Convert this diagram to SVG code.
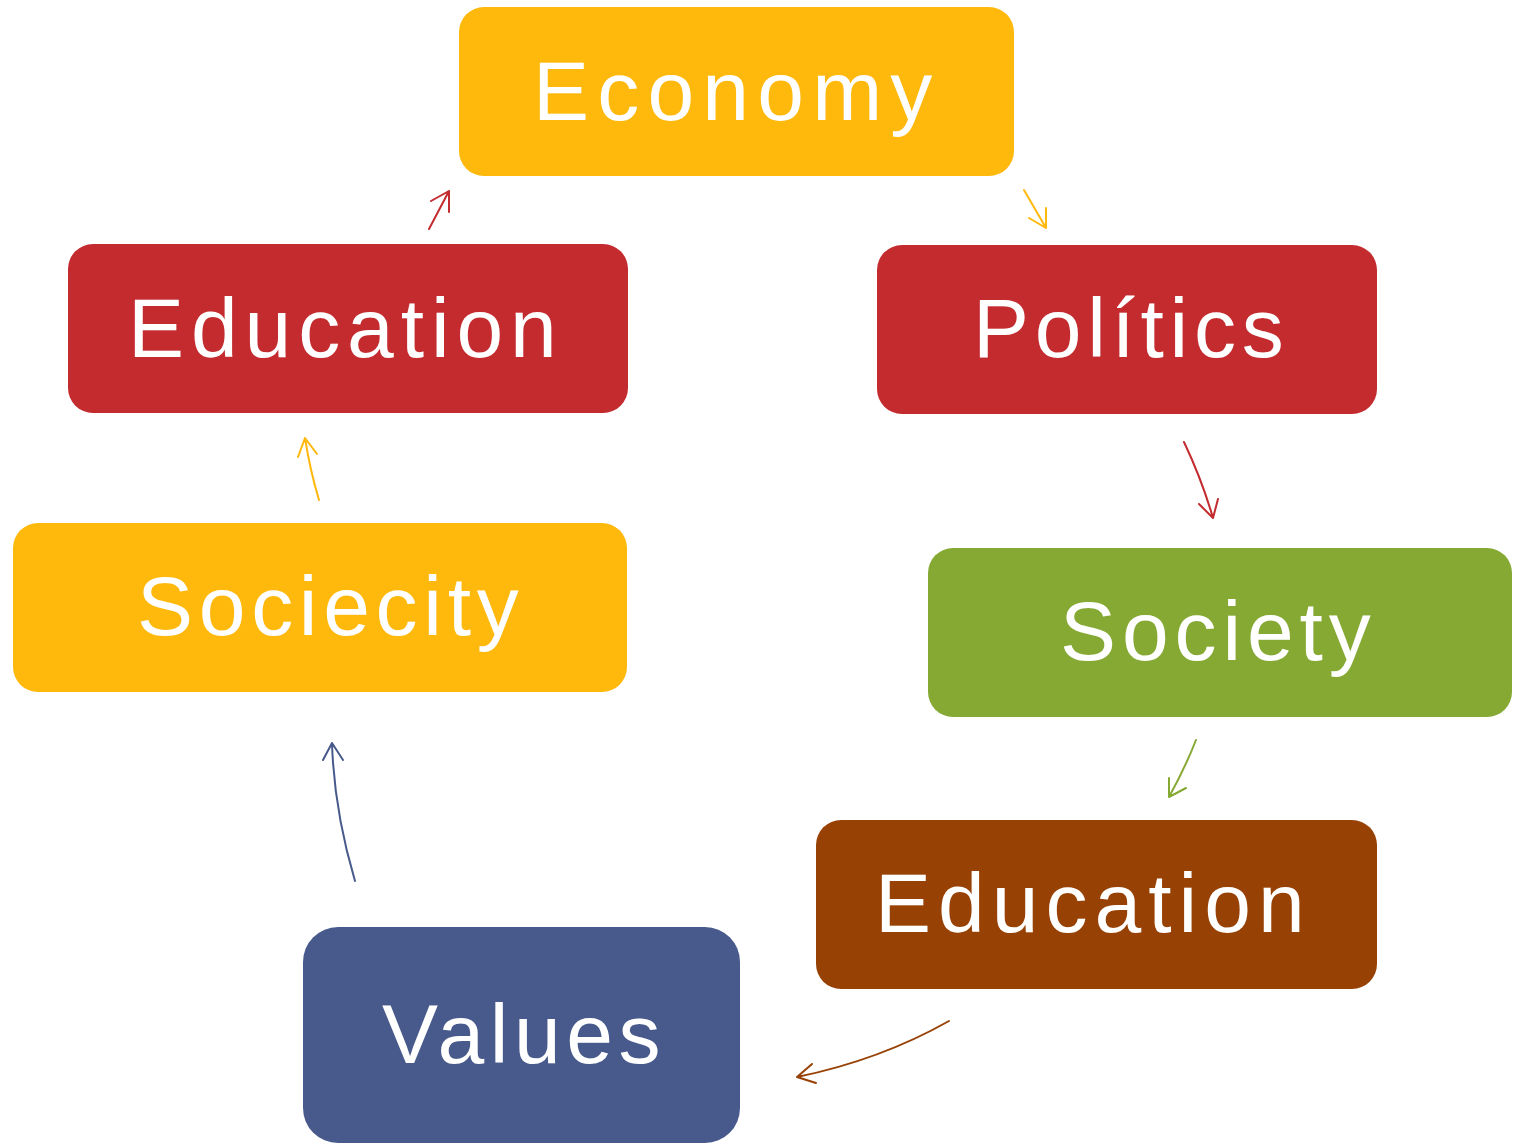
<svg xmlns="http://www.w3.org/2000/svg" width="1518" height="1143" viewBox="0 0 1518 1143">
<style>
.lbl{font-family:"Liberation Sans",Arial,sans-serif;font-size:84px;fill:#fff}
.c{fill:none;stroke-width:2;stroke-linecap:round;stroke-linejoin:round}
</style>
<rect width="1518" height="1143" fill="#fff"/>
<g id="economy"><rect x="459" y="7" width="555" height="169" rx="25" fill="#FFB80C"/><text class="lbl" x="533" y="120" letter-spacing="8.2">Economy</text></g>
<g id="education-top"><rect x="68" y="244" width="560" height="169" rx="25" fill="#C32B2F"/><text class="lbl" x="128" y="357" letter-spacing="6.9">Education</text></g>
<g id="politics"><rect x="877" y="245" width="500" height="169" rx="25" fill="#C32B2F"/><text class="lbl" x="973" y="357" letter-spacing="5.7">Polítics</text></g>
<g id="sociecity"><rect x="13" y="523" width="614" height="169" rx="25" fill="#FFB80C"/><text class="lbl" x="137" y="635" letter-spacing="5.7">Sociecity</text></g>
<g id="society"><rect x="928" y="548" width="584" height="169" rx="25" fill="#86A934"/><text class="lbl" x="1060" y="660" letter-spacing="5.9">Society</text></g>
<g id="education-bottom"><rect x="816" y="820" width="561" height="169" rx="25" fill="#974104"/><text class="lbl" x="875" y="932" letter-spacing="7">Education</text></g>
<g id="values"><rect x="303" y="927" width="437" height="216" rx="35" fill="#485A8C"/><text class="lbl" x="382" y="1063" letter-spacing="5.6">Values</text></g>
<g id="connectors">
<path class="c" stroke="#C32B2F" d="M429,229 L449,191 M431,201 L449,191 L449,212"/>
<path class="c" stroke="#FFB80C" d="M1024,190 L1046,228 M1046,208 L1046,228 L1029,218"/>
<path class="c" stroke="#C32B2F" d="M1184,442 Q1202,480 1213,518 M1199,504 L1213,518 L1218,499"/>
<path class="c" stroke="#86A934" d="M1196,740 Q1185,768 1169,797 M1169,778 L1169,797 L1186,788"/>
<path class="c" stroke="#974104" d="M949,1021 Q880,1060 797,1077 M812,1064 L797,1077 L816,1083"/>
<path class="c" stroke="#485A8C" d="M355,881 Q334,810 332,743 M323,760 L332,743 L343,760"/>
<path class="c" stroke="#FFB80C" d="M319,500 Q310,470 305,438 M298,457 L305,438 L317,454"/>
</g>
</svg>
